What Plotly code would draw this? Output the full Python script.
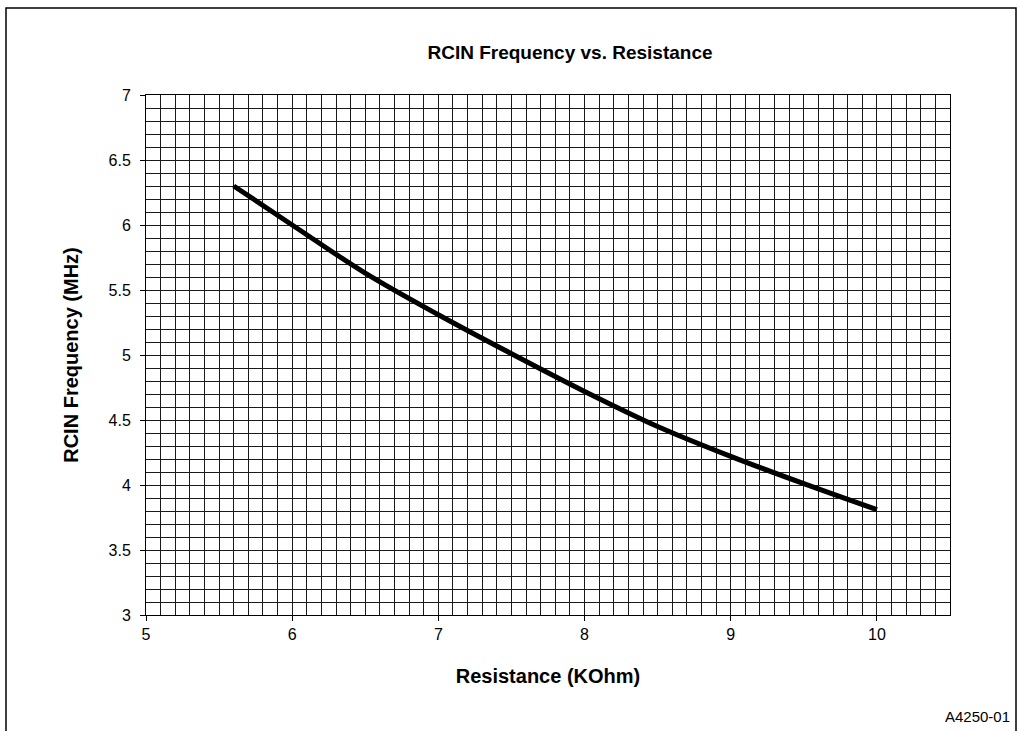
import plotly.graph_objects as go

resistance_kohm = [5.6, 6.0, 6.5, 7.0, 7.5, 8.0, 8.5, 9.0, 9.5, 10.0]
frequency_mhz = [6.30, 6.00, 5.63, 5.31, 5.01, 4.72, 4.45, 4.22, 4.01, 3.81]

W, H = 1019, 731
L, R, T, B = 146, 69, 95, 116
pw, ph = W - L - R, H - T - B

def px(x):
    return (x - L) / pw

def py(y):
    return (H - B - y) / ph

font = "Liberation Sans, Arial, sans-serif"
grid = "#1a1a1a"

fig = go.Figure()
fig.add_trace(go.Scatter(
    x=resistance_kohm, y=frequency_mhz, mode="lines",
    line=dict(color="black", width=5, shape="spline"),
    showlegend=False, hoverinfo="skip",
))

fig.update_layout(
    width=W, height=H,
    margin=dict(l=L, r=R, t=T, b=B),
    paper_bgcolor="white", plot_bgcolor="white",
    font=dict(family=font, color="black", size=16),
    title=dict(text="<b>RCIN Frequency vs. Resistance</b>", xref="container", x=570 / W,
               xanchor="center", yref="container", y=1 - 52 / H, yanchor="middle",
               font=dict(size=19)),
    xaxis=dict(
        range=[5, 10.5], tickmode="array", tickvals=[5, 6, 7, 8, 9, 10],
        ticks="outside", ticklen=5, tickcolor="black",
        showgrid=True, gridcolor=grid, gridwidth=1,
        minor=dict(dtick=0.1, showgrid=True, gridcolor=grid, gridwidth=1),
        showline=True, linecolor="black", linewidth=1, mirror=True,
        zeroline=False,
        title=dict(text="<b>Resistance (KOhm)</b>", font=dict(size=20), standoff=26),
        tickfont=dict(size=16),
    ),
    yaxis=dict(
        range=[3, 7], dtick=0.5, tick0=3,
        ticks="outside", ticklen=5, tickcolor="black", ticklabelstandoff=6,
        showgrid=True, gridcolor=grid, gridwidth=1,
        minor=dict(dtick=0.1, showgrid=True, gridcolor=grid, gridwidth=1),
        showline=True, linecolor="black", linewidth=1, mirror=True,
        zeroline=False,
        title=dict(text="<b>RCIN Frequency (MHz)</b>", font=dict(size=20), standoff=24),
        tickfont=dict(size=16),
    ),
)

# outer frame
fig.add_shape(type="rect", xref="paper", yref="paper",
              x0=px(6), x1=px(1016), y0=py(740), y1=py(8),
              line=dict(color="black", width=1.5), layer="below")

fig.add_annotation(text="A4250-01", xref="paper", yref="paper",
                   x=px(1012), y=py(716), xanchor="right", yanchor="middle",
                   showarrow=False, font=dict(size=15))

fig.write_html("out.html", config={"displayModeBar": False},
               post_script="document.body.style.margin='0';")
